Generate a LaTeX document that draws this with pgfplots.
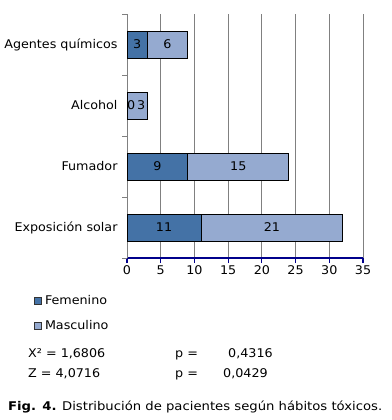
\documentclass[border=0pt]{standalone}
\usepackage{pgfplots}
\pgfplotsset{compat=1.18}
\usepackage{fontspec}
\setmainfont{DejaVu Sans}[FakeStretch=1.06]
\newfontfamily\capfont{DejaVu Sans}[FakeStretch=1.10]
\definecolor{fem}{HTML}{4472A6}
\definecolor{mas}{HTML}{95AAD0}
\definecolor{axnavy}{HTML}{00008B}
\begin{document}
\begin{tikzpicture}[font=\fontsize{12}{14}\selectfont]
\path[use as bounding box] (0,0) rectangle (391pt,-420pt);
\begin{axis}[
  at={(127pt,-258pt)}, anchor=south west,
  scale only axis, width=236pt, height=244pt,
  xbar stacked, bar width=27pt,
  xmin=0, xmax=35, ymin=0.5, ymax=4.5,
  axis x line=bottom, axis y line=left,
  x axis line style={-, draw=axnavy, line width=1.6pt},
  y axis line style={-, draw=gray, line width=0.8pt},
  xtick={0,5,...,35},
  x tick style={draw=axnavy, line width=1.2pt},
  xtick align=outside, ytick align=outside,
  major tick length=5pt, minor tick length=5pt,
  xmajorgrids, grid style={draw=gray, line width=0.9pt},
  ytick={1,2,3,4},
  yticklabels={Exposición solar, Fumador, Alcohol, Agentes químicos},
  major y tick style={draw=none},
  minor ytick={0.5,1.5,2.5,3.5,4.5},
  minor y tick style={draw=gray, line width=0.8pt},
  yticklabel style={xshift=-1pt},
  xticklabel style={yshift=1pt},
  /pgf/number format/assume math mode=true,
  tick label style={font=\fontsize{12}{14}\selectfont},
  legend style={at={(-0.394,-0.145)}, anchor=north west, draw=none, fill=none,
    row sep=10pt, font=\fontsize{12}{14}\selectfont, inner sep=0pt,
    nodes={inner xsep=3pt}},
  legend cell align=left,
  legend image code/.code={\draw[#1, draw=black!80, line width=0.8pt] (0pt,-3.5pt) rectangle (7pt,3.5pt);},
]
\addplot[fill=fem, draw=black, line width=0.8pt] coordinates {(11,1) (9,2) (0,3) (3,4)};
\addplot[fill=mas, draw=black, line width=0.8pt] coordinates {(21,1) (15,2) (3,3) (6,4)};
\legend{Femenino, Masculino}
\end{axis}
\begin{axis}[
  at={(127pt,-258pt)}, anchor=south west,
  scale only axis, width=236pt, height=244pt,
  xmin=0, xmax=35, ymin=0.5, ymax=4.5,
  hide axis, clip=false,
]
\addplot[draw=none, mark=none, nodes near coords, point meta=explicit symbolic,
  every node near coord/.append style={anchor=center, font=\fontsize{12}{14}\selectfont, inner sep=0pt}]
  coordinates {(5.5,1) [11] (21.5,1) [21] (4.5,2) [9] (16.5,2) [15]
               (0.6,3) [0] (2.1,3) [3] (1.5,4) [3] (6,4) [6]};
\end{axis}
\node[anchor=base west, inner sep=0pt] at (28pt,-357pt) {X² = 1,6806};
\node[anchor=base west, inner sep=0pt] at (175pt,-357pt) {p =};
\node[anchor=base west, inner sep=0pt] at (228pt,-357pt) {0,4316};
\node[anchor=base west, inner sep=0pt] at (28pt,-377pt) {Z = 4,0716};
\node[anchor=base west, inner sep=0pt] at (175pt,-377pt) {p =};
\node[anchor=base west, inner sep=0pt] at (223pt,-377pt) {0,0429};
\node[anchor=base west, inner sep=0pt] at (8pt,-410pt) {\capfont\textbf{Fig. 4.} Distribución de pacientes según hábitos tóxicos.};
\end{tikzpicture}
\end{document}
